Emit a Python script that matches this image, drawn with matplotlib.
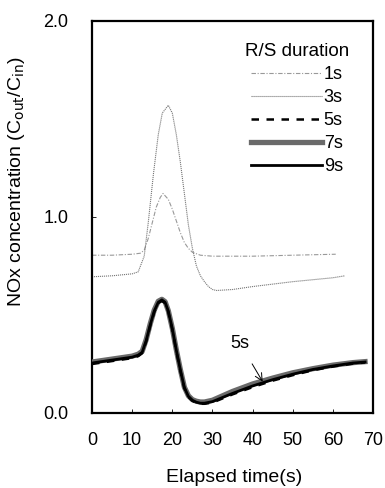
import matplotlib.pyplot as plt
import numpy as np

plt.rcParams['font.family'] = ['Liberation Sans', 'DejaVu Sans']

# R/S duration 1s (upper gray curve)
t_1s = [0, 5, 10, 12, 13, 14, 15, 16, 17, 17.7, 19, 20, 21, 22, 23, 24, 25, 27, 30, 40, 50, 60.7]
c_1s = [0.805, 0.805, 0.81, 0.815, 0.83, 0.89, 0.97, 1.05, 1.10, 1.12, 1.09, 1.04, 0.98, 0.92,
        0.87, 0.84, 0.82, 0.805, 0.80, 0.80, 0.805, 0.81]

# R/S duration 3s (tall peak)
t_3s = [0, 5, 10, 11.5, 13, 14, 15.3, 16.5, 17.5, 19, 20, 21, 22, 23, 24, 25, 26, 27, 28, 29,
        30, 31, 35, 40, 50, 60, 63]
c_3s = [0.695, 0.70, 0.71, 0.72, 0.80, 0.97, 1.22, 1.42, 1.53, 1.57, 1.53, 1.42, 1.28, 1.12,
        0.96, 0.84, 0.75, 0.70, 0.67, 0.645, 0.63, 0.625, 0.63, 0.645, 0.67, 0.69, 0.70]

# R/S duration 5s, 7s, 9s (overlapping black bundle)
t_long = [0, 5, 10, 11.5, 12.5, 13.5, 14.5, 15.5, 16.5, 17.4, 18.2, 19, 20, 21, 22, 23, 24,
          25, 26, 27, 28, 30, 32, 35, 40, 45, 50, 55, 60, 65, 68]
c_9s = [0.255, 0.27, 0.285, 0.295, 0.31, 0.37, 0.45, 0.52, 0.565, 0.577, 0.565, 0.52, 0.43,
        0.32, 0.22, 0.13, 0.085, 0.065, 0.055, 0.05, 0.05, 0.058, 0.075, 0.10, 0.138, 0.17,
        0.198, 0.222, 0.24, 0.255, 0.26]
c_7s = [0.26, 0.275, 0.29, 0.30, 0.315, 0.375, 0.455, 0.525, 0.57, 0.58, 0.568, 0.522, 0.432,
        0.322, 0.222, 0.132, 0.088, 0.068, 0.06, 0.056, 0.056, 0.065, 0.083, 0.11, 0.148,
        0.178, 0.205, 0.226, 0.244, 0.257, 0.262]
c_5s = [0.25, 0.265, 0.28, 0.29, 0.305, 0.365, 0.445, 0.515, 0.56, 0.572, 0.56, 0.515, 0.425,
        0.315, 0.215, 0.127, 0.082, 0.062, 0.052, 0.047, 0.047, 0.053, 0.07, 0.095, 0.132,
        0.165, 0.193, 0.218, 0.237, 0.252, 0.258]

x_ticks = [0, 10, 20, 30, 40, 50, 60, 70]
y_ticks = [0.0, 1.0, 2.0]

fig = plt.figure(figsize=(3.85, 4.88), dpi=100)
ax = fig.add_axes([0.239, 0.1537, 0.730, 0.8033])

ax.plot(t_1s, c_1s, color='#999999', lw=0.8, linestyle=(0, (4, 1.5, 1, 1.5)), label='1s')
ax.plot(t_3s, c_3s, color='#777777', lw=0.8, linestyle=(0, (1, 0.8)), label='3s')
ax.plot(t_long, c_7s, color='#6a6a6a', lw=3.8, label='7s', zorder=3)
ax.plot(t_long, c_5s, color='black', lw=1.8, linestyle=(0, (3, 3)), label='5s', zorder=4)
ax.plot(t_long, c_9s, color='black', lw=2.0, label='9s', zorder=4)

ax.annotate('5s', xy=(42.5, 0.16), xytext=(36.8, 0.357), fontsize=13, ha='center', va='center',
            arrowprops=dict(arrowstyle='->', color='black', lw=0.7, shrinkA=8, shrinkB=0))

ax.set_xlim(0, 70)
ax.set_ylim(0, 2.0)
ax.set_xticks(x_ticks)
ax.set_yticks(y_ticks)
ax.set_yticklabels([f'{v:.1f}' for v in y_ticks])
ax.tick_params(direction='in', length=3, width=0.6, labelsize=13)
ax.tick_params(axis='x', pad=14)
ax.tick_params(axis='y', pad=17)

ax.set_xlabel('Elapsed time(s)', fontsize=14)
ax.xaxis.set_label_coords(0.505, -0.143)
ax.set_ylabel('NOx concentration (C$_{\\mathrm{out}}$/C$_{\\mathrm{in}}$)', fontsize=14)
ax.yaxis.set_label_coords(-0.232, 0.59)

for spine in ax.spines.values():
    spine.set_linewidth(1.6)

handles, labels = ax.get_legend_handles_labels()
order = [labels.index(k) for k in ['1s', '3s', '5s', '7s', '9s']]
leg = ax.legend([handles[i] for i in order], [labels[i] for i in order],
                title='R/S duration', loc='upper right', bbox_to_anchor=(0.915, 0.943),
                frameon=False, fontsize=13, title_fontsize=13.5, handlelength=3.9,
                handletextpad=0.12, labelspacing=0.33, borderpad=0, borderaxespad=0)

fig.savefig('out.png', dpi=100)
